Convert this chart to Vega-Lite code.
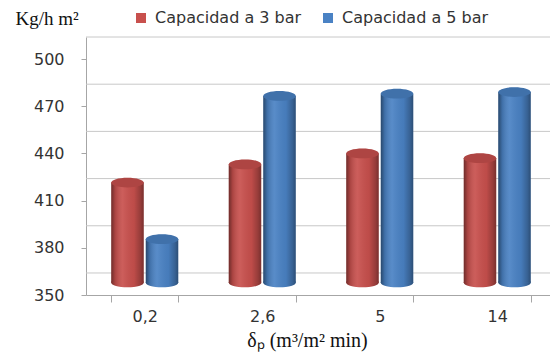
{
  "$schema": "https://vega.github.io/schema/vega-lite/v6.json",
  "width": 464,
  "height": 258,
  "autosize": {"type": "none"},
  "padding": {"left": 86, "top": 37, "right": 0, "bottom": 66},
  "background": "white",
  "config": {"view": {"stroke": null}, "font": "DejaVu Sans"},
  "datasets": {
    "capacidad": [
      {"cat": "0,2", "serie": "Capacidad a 3 bar", "valor": 421.5},
      {"cat": "0,2", "serie": "Capacidad a 5 bar", "valor": 385.5},
      {"cat": "2,6", "serie": "Capacidad a 3 bar", "valor": 433},
      {"cat": "2,6", "serie": "Capacidad a 5 bar", "valor": 476.5},
      {"cat": "5", "serie": "Capacidad a 3 bar", "valor": 440},
      {"cat": "5", "serie": "Capacidad a 5 bar", "valor": 478},
      {"cat": "14", "serie": "Capacidad a 3 bar", "valor": 437},
      {"cat": "14", "serie": "Capacidad a 5 bar", "valor": 479}
    ],
    "pared": [
      {"nivel": 364}, {"nivel": 394}, {"nivel": 424},
      {"nivel": 454}, {"nivel": 484}, {"nivel": 514}
    ]
  },
  "resolve": {"axis": {"y": "independent"}},
  "layer": [
    {
      "data": {"name": "pared"},
      "mark": {"type": "rule", "color": "#c8c8c8", "strokeWidth": 1},
      "encoding": {
        "y": {"field": "nivel", "type": "quantitative", "axis": null}
      }
    },
    {
      "data": {"name": "capacidad"},
      "resolve": {"axis": {"y": "independent"}},
      "encoding": {
        "x": {
          "field": "cat",
          "type": "nominal",
          "sort": ["0,2", "2,6", "5", "14"],
          "scale": {"range": [0, 470], "paddingInner": 0.43, "paddingOuter": 0.215},
          "axis": {
            "title": "δₚ (m³/m² min)",
            "grid": false,
            "tickBand": "extent",
            "tickSize": 7,
            "tickColor": "#a6a6a6",
            "domainColor": "#a6a6a6",
            "labelAngle": 0,
            "labelFont": "DejaVu Sans",
            "labelFontSize": 16,
            "labelColor": "#333333",
            "labelPadding": 6,
            "titleFont": "Liberation Serif",
            "titleFontSize": 20,
            "titleFontWeight": "normal",
            "titleColor": "#111111",
            "titleX": 221,
            "titleY": 51,
            "titleAlign": "center",
            "titleBaseline": "alphabetic"
          }
        },
        "xOffset": {
          "field": "serie",
          "type": "nominal",
          "scale": {"paddingInner": 0.06, "paddingOuter": 0}
        }
      },
      "layer": [
        {
          "mark": {
            "type": "point",
            "shape": "M-1,0 C-1,-0.166 -0.552,-0.3 0,-0.3 C0.552,-0.3 1,-0.166 1,0 C1,0.166 0.552,0.3 0,0.3 C-0.552,0.3 -1,0.166 -1,0 Z",
            "size": 1056,
            "filled": true,
            "opacity": 1,
            "strokeWidth": 0
          },
          "encoding": {
            "y": {"datum": 358, "type": "quantitative", "axis": null},
            "color": {"field": "serie", "type": "nominal"}
          }
        },
        {
          "mark": {
            "type": "point",
            "shape": "M-1,0 C-1,-0.166 -0.552,-0.3 0,-0.3 C0.552,-0.3 1,-0.166 1,0 C1,0.166 0.552,0.3 0,0.3 C-0.552,0.3 -1,0.166 -1,0 Z",
            "size": 1056,
            "filled": true,
            "opacity": 1,
            "strokeWidth": 0,
            "fill": {
              "gradient": "linear", "x1": 0, "x2": 1, "y1": 0, "y2": 0,
              "stops": [
                {"offset": 0, "color": "rgba(0,0,0,0.45)"},
                {"offset": 0.12, "color": "rgba(0,0,0,0.15)"},
                {"offset": 0.35, "color": "rgba(255,255,255,0.08)"},
                {"offset": 0.7, "color": "rgba(0,0,0,0.05)"},
                {"offset": 0.9, "color": "rgba(0,0,0,0.25)"},
                {"offset": 1, "color": "rgba(0,0,0,0.4)"}
              ]
            }
          },
          "encoding": {
            "y": {"datum": 358, "type": "quantitative", "axis": null}
          }
        },
        {
          "mark": {"type": "bar"},
          "encoding": {
            "y": {
              "field": "valor",
              "type": "quantitative",
              "scale": {"domain": [350, 514], "nice": false, "zero": false},
              "axis": {
                "values": [350, 380, 410, 440, 470, 500],
                "grid": false,
                "tickSize": 5,
                "tickColor": "#a6a6a6",
                "domainColor": "#a6a6a6",
                "labelFont": "DejaVu Sans",
                "labelFontSize": 16,
                "labelColor": "#333333",
                "labelPadding": 17,
                "title": "Kg/h m²",
                "titleFont": "Liberation Serif",
                "titleFontSize": 19,
                "titleFontWeight": "normal",
                "titleColor": "#111111",
                "titleAngle": 0,
                "titleAlign": "left",
                "titleBaseline": "alphabetic",
                "titleX": -71,
                "titleY": -13
              }
            },
            "y2": {"datum": 358},
            "color": {
              "field": "serie",
              "type": "nominal",
              "scale": {"range": ["#c8504d", "#4a82c4"]},
              "legend": {
                "title": null,
                "orient": "none",
                "legendX": 47,
                "legendY": -27,
                "direction": "horizontal",
                "symbolType": "square",
                "symbolSize": 100,
                "symbolStrokeWidth": 0,
                "symbolOpacity": 1,
                "labelFont": "DejaVu Sans",
                "labelFontSize": 16,
                "labelColor": "#333333",
                "labelOffset": 6,
                "columnPadding": 18,
                "padding": 0
              }
            }
          }
        },
        {
          "mark": {
            "type": "bar",
            "fill": {
              "gradient": "linear", "x1": 0, "x2": 1, "y1": 0, "y2": 0,
              "stops": [
                {"offset": 0, "color": "rgba(0,0,0,0.45)"},
                {"offset": 0.12, "color": "rgba(0,0,0,0.15)"},
                {"offset": 0.35, "color": "rgba(255,255,255,0.08)"},
                {"offset": 0.7, "color": "rgba(0,0,0,0.05)"},
                {"offset": 0.9, "color": "rgba(0,0,0,0.25)"},
                {"offset": 1, "color": "rgba(0,0,0,0.4)"}
              ]
            }
          },
          "encoding": {
            "y": {"field": "valor", "type": "quantitative", "axis": null},
            "y2": {"datum": 358}
          }
        },
        {
          "mark": {
            "type": "point",
            "shape": "M-1,0 C-1,-0.166 -0.552,-0.3 0,-0.3 C0.552,-0.3 1,-0.166 1,0 C1,0.166 0.552,0.3 0,0.3 C-0.552,0.3 -1,0.166 -1,0 Z",
            "size": 1056,
            "filled": true,
            "opacity": 1,
            "strokeWidth": 0
          },
          "encoding": {
            "y": {"field": "valor", "type": "quantitative", "axis": null},
            "color": {"field": "serie", "type": "nominal"}
          }
        },
        {
          "mark": {
            "type": "point",
            "shape": "M-1,0 C-1,-0.166 -0.552,-0.3 0,-0.3 C0.552,-0.3 1,-0.166 1,0 C1,0.166 0.552,0.3 0,0.3 C-0.552,0.3 -1,0.166 -1,0 Z",
            "size": 1056,
            "filled": true,
            "opacity": 1,
            "strokeWidth": 0,
            "fill": "#000000",
            "fillOpacity": 0.13
          },
          "encoding": {
            "y": {"field": "valor", "type": "quantitative", "axis": null}
          }
        }
      ]
    }
  ]
}
